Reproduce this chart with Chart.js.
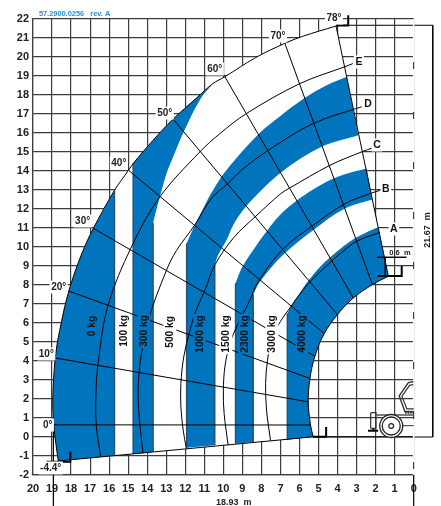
<!DOCTYPE html>
<html>
<head>
<meta charset="utf-8">
<title>Load chart</title>
<script src="https://cdn.jsdelivr.net/npm/chart.js@4.4.1/dist/chart.umd.js"></script>
<style>
  html, body { margin: 0; padding: 0; background: #fff; }
  canvas { display: block; }
</style>
</head>
<body>
<canvas id="chart" width="441" height="506"></canvas>
<script>
// Working envelope as [reach m, height m]
const outerLow = [[18.67,-1.26],[18.8,-0.35],[18.91,0.64],[18.96,2.0],[18.83,4.16],[18.6,5.6],[18.12,7.68],[17.44,9.64],[16.83,10.98],[15.72,12.98]];
const outerGap = [[15.72,12.98],[14.98,14.04],[14.74,14.39]];
const outerMid = [[14.74,14.39],[13.69,15.62],[12.64,16.73],[11.4,17.85],[10.55,18.6]];
const outerTop = [[10.55,18.6],[9.92,18.96],[8.3,19.97],[6.77,20.72],[5.8,21.1],[4.08,21.63]];
const innerArc = [[1.33,8.46],[2.17,8.02],[3.17,7.32],[4.01,6.44],[4.7,5.44],[5.19,4.25],[5.45,3.08],[5.54,1.85],[5.42,0.63],[5.28,0.01]];

// Blue band edges
const strip2Edge = [[13.69,11.26],[13.51,12.0],[13.34,12.63],[12.99,13.86],[12.64,14.74],[12.08,16.06],[11.24,17.73],[10.55,18.6]];
const band1Top = [[11.93,10.19],[11.5,11.16],[11.06,12.03],[10.54,13.0],[9.83,14.05],[8.12,15.97],[7.0,16.9],[5.71,17.85],[4.6,18.5],[3.52,18.96]];
const band1Low = [[2.91,15.88],[4.84,15.27],[6.94,13.95],[8.25,12.74],[8.96,11.95],[9.48,11.16],[9.83,10.37],[10.27,9.58],[10.45,9.05]];
const band2Top = [[9.36,8.09],[9.04,8.88],[8.43,9.84],[7.73,10.81],[7.03,11.68],[6.12,12.46],[5.2,13.08],[4.22,13.6],[3.3,13.92],[2.47,14.13]];
const band2Low = [[2.17,12.5],[3.61,12.02],[5.28,10.88],[6.9,9.55],[8.08,8.17],[8.43,7.5]];
const band3Top = [[6.64,6.49],[6.41,6.95],[6.0,7.55],[5.54,8.22],[4.9,8.98],[4.22,9.6],[3.87,9.9],[3.0,10.51],[2.03,10.98],[1.86,11.02]];

// Band foot points on the bottom line
const stripFeet = [15.72,14.74,13.69,11.93,10.45,9.36,8.43,6.64];
const stripFootHeights = [-0.98,-0.89,-0.79,-0.57,-0.44,-0.35,-0.26,-0.14];

// Load curves
const arcA = [[7.52,-0.2],[7.73,1.42],[7.78,2.82],[7.68,4.04],[7.47,5.09],[7.12,5.88],[6.59,6.67],[5.54,8.07],[4.31,9.25],[3.87,9.65],[3.0,10.3],[1.77,10.77]];
const arcB = [[9.75,-0.42],[9.96,1.24],[10.0,2.47],[9.92,3.69],[9.71,4.74],[9.45,5.48],[8.96,6.49],[8.6,7.21],[8.22,8.09],[6.86,9.9],[5.28,11.14],[3.61,12.28],[2.21,12.84],[1.77,12.98]];
const arcC = [[11.94,-0.63],[12.11,0.36],[12.23,1.59],[12.23,2.82],[12.08,4.22],[11.8,5.44],[11.5,6.49],[10.97,7.72],[10.45,9.05],[9.45,10.5],[8.34,11.58],[6.97,12.82],[6.52,13.1],[4.4,14.3],[2.65,15.04],[2.2,15.2]];
const arcD = [[14.22,-0.86],[14.39,0.71],[14.48,2.29],[14.43,3.34],[14.3,4.39],[13.95,6.14],[12.99,8.77],[12.46,9.82],[11.5,11.16],[10.62,12.57],[9.75,13.35],[9.04,14.05],[7.64,15.09],[5.28,16.5],[2.73,17.38]];
const arcE = [[16.44,-1.04],[16.67,0.54],[16.7,2.11],[16.58,3.87],[16.06,6.93],[14.83,10.0],[13.34,12.63],[11.24,15.0],[10.18,15.97],[8.78,17.03],[5.98,18.6],[3.61,19.49],[3.2,19.65]];

// Boom angle lines
const ray0 = [[18.91,0.64],[5.42,0.63]];
const ray10 = [[18.83,4.16],[5.54,1.85]];
const ray20 = [[18.12,7.68],[5.45,3.08]];
const ray30 = [[16.83,10.98],[5.19,4.25]];
const ray40 = [[14.98,14.04],[4.7,5.44]];
const ray50 = [[12.64,16.73],[4.01,6.44]];
const ray60 = [[9.92,18.96],[3.17,7.32]];
const ray70 = [[6.77,20.72],[2.17,8.02]];

// Dimension marks
const heightDim = [[4.08,21.67],[-1.0,21.67],[-1.0,0.0],[5.28,0.0]];
const reachDim = [[18.93,0.7],[18.93,-3.65]];
const zeroDim = [[0,-2],[0,-3.65]];
const zeroAxis = [[0,22],[0,-2]];
const tickTop = [[4.08,21.66],[3.44,21.66],[3.44,22.2]];
const tickFront = [[5.28,0.01],[4.6,0.01],[4.6,0.53]];
const tickBack = [[19.3,-1.3],[18.04,-1.3],[18.04,-0.77]];
const tickNose = [[1.91,8.47],[0.63,8.47],[0.63,9.0]];
const noseDim = [[1.93,9.46],[0.37,9.46]];
const noseDrop = [[1.5,9.46],[1.5,8.47]];

// Machine
const cabOuter = [[0.02,2.91],[0.28,2.86],[0.76,2.16],[0.46,1.33],[0,1.33]];
const cabInner = [[0.02,2.76],[0.22,2.72],[0.62,2.14],[0.36,1.48],[0,1.48]];
const grille = [[0.45,1.3],[0,1.3]];
const chassis = [[1.95,1.16],[0,1.16]];
const axle = [[0.62,0.6],[0,0.6]];
const outrigger = [[2.26,1.28],[1.98,1.28],[1.98,0.46],[2.26,0.46],[2.26,1.28]];
const outriggerStem = [[2.12,0.46],[2.12,0.33]];
const outriggerFoot = [[2.4,0.33],[1.87,0.33]];
const wheelHub = [[1.18,0.58]];

// Axis ticks
const xTicks = [0,1,2,3,4,5,6,7,8,9,10,11,12,13,14,15,16,17,18,19,20];
const yTicks = [-2,-1,0,1,2,3,4,5,6,7,8,9,10,11,12,13,14,15,16,17,18,19,20,21,22];

// Text labels [text, reach, height]
const degreeLabels = [['0°',19.23,0.63],['10°',19.3,4.37],['20°',18.65,7.89],['30°',17.39,11.37],['40°',15.49,14.42],['50°',13.08,17.05],['60°',10.45,19.37],['70°',7.13,21.11],['78°',4.19,22.05],['-4.4°',19.07,-1.63]];
const curveLabels = [['A',1.04,10.95],['B',1.46,13.05],['C',1.93,15.37],['D',2.4,17.53],['E',2.88,19.74]];
const loadsOnBlue = [['0 kg',16.91,5.84],['300 kg',14.18,5.58],['1000 kg',11.24,5.42],['2300 kg',8.87,5.42],['4000 kg',5.87,5.42]];
const loadsOnWhite = [['100 kg',15.23,5.58],['500 kg',12.81,5.53],['1500 kg',9.87,5.42],['3000 kg',7.45,5.42]];

const BLUE = '#0074bc';
const SMOOTH = 0.35;
const toXY = pts => pts.map(p => ({ x: p[0], y: p[1] }));
const foot = x => [x, stripFootHeights[stripFeet.indexOf(x)]];

// doubling the end points of each piece keeps the corners sharp under the spline
function joined(...pieces) {
    return pieces.flatMap(p => [p[0], ...p, p[p.length - 1]]);
}
function shape(pts, color) {
    return { data: toXY(pts), showLine: true, pointRadius: 0, borderWidth: 0, borderColor: color, backgroundColor: color, fill: 'shape', tension: SMOOTH, clip: false };
}
function stroke(pts, width, color, smooth) {
    return { data: toXY(pts), showLine: true, pointRadius: 0, borderWidth: width, borderColor: color || '#000', fill: false, tension: smooth ? SMOOTH : 0, clip: false };
}
function dot(pts, radius, width, fillColor, style, rot) {
    return { data: toXY(pts), showLine: false, pointStyle: style || 'circle', pointRotation: rot || 0, pointRadius: radius, pointBorderWidth: width, pointBorderColor: '#222', pointBackgroundColor: fillColor, clip: false };
}

const outerAll = [...outerLow, ...outerGap.slice(1), ...outerMid.slice(1), ...outerTop.slice(1)];
const envelope = joined(outerAll, innerArc);
const strip0 = joined(outerLow, [foot(15.72)]);
const strip2 = joined([foot(14.74)], outerMid, strip2Edge.slice().reverse(), [foot(13.69)]);
const band1 = joined([foot(11.93)], band1Top, band1Low, [foot(10.45)]);
const band2 = joined([foot(9.36)], band2Top, band2Low, [foot(8.43)]);
const band3 = joined([foot(6.64)], band3Top, innerArc);

// listed bottom to top, reversed at the end because Chart.js paints index 0 last
const layers = [
    shape(envelope, '#ffffff'),
    shape(strip0, BLUE), shape(strip2, BLUE), shape(band1, BLUE), shape(band2, BLUE), shape(band3, BLUE),
    stroke([foot(15.72),[15.72,12.98]], 1.4, '#28506e'),
    stroke([foot(14.74),[14.74,14.39]], 1.4, '#28506e'),
    stroke([foot(13.69),[13.69,11.26]], 1.4, '#28506e'),
    stroke([foot(10.45),[10.45,9.05]], 1.4, '#28506e'),
    stroke([foot(11.93),[11.93,10.19]], 1.4, '#28506e'),
    stroke([foot(9.36),[9.36,8.09]], 1.4, '#28506e'),
    stroke([foot(8.43),[8.43,7.5]], 1.4, '#28506e'),
    stroke([foot(6.64),[6.64,6.49]], 1.4, '#28506e'),
    stroke(joined(outerAll, innerArc, [outerAll[0]]), 1, '#000', true),
    stroke(ray0, 1), stroke(ray10, 1), stroke(ray20, 1), stroke(ray30, 1),
    stroke(ray40, 1), stroke(ray50, 1), stroke(ray60, 1), stroke(ray70, 1),
    stroke(arcA, 1, '#000', true), stroke(arcB, 1, '#000', true), stroke(arcC, 1, '#000', true),
    stroke(arcD, 1, '#000', true), stroke(arcE, 1, '#000', true),
    stroke(heightDim, 1), stroke(reachDim, 1.2), stroke(zeroDim, 1.2),
    stroke(tickTop, 2), stroke(tickFront, 2), stroke(tickBack, 2), stroke(tickNose, 2),
    stroke(noseDim, 1.4), stroke(noseDrop, 1.4),
    Object.assign(stroke(zeroAxis, 1.6, '#ffffff'), { borderDash: [43, 7] }),
    stroke(cabOuter, 1.4, '#333'), stroke(cabInner, 1.2, '#333'),
    Object.assign(stroke(grille, 3, '#333'), { borderDash: [1.5, 1] }),
    stroke(chassis, 1.6, '#555'), stroke(axle, 1.2, '#555'),
    stroke(outrigger, 1.2, '#333'), stroke(outriggerStem, 2), stroke(outriggerFoot, 2),
    dot(wheelHub, 11.5, 1.3, '#ffffff'), dot(wheelHub, 9, 1.3, '#ffffff'), dot(wheelHub, 2.4, 1.2, '#ffffff'),
    dot([[-1.0,21.4]], 3, 0, '#000', 'triangle'),
    dot([[-1.0,0.25]], 3, 0, '#000', 'triangle', 180)
];

const labelPlugin = {
    id: 'labelPlugin',
    afterDatasetsDraw(chart) {
        const { ctx, scales: { x, y } } = chart;
        const put = (text, rx, ry, font, color, bg, rotated, align) => {
            const px = x.getPixelForValue(rx), py = y.getPixelForValue(ry);
            ctx.save();
            ctx.translate(px, py);
            if (rotated) ctx.rotate(-Math.PI / 2);
            ctx.font = font;
            ctx.textAlign = align || 'center';
            ctx.textBaseline = 'middle';
            if (bg) {
                const w = ctx.measureText(text).width + 3;
                ctx.fillStyle = bg;
                ctx.fillRect(-w / 2, -6.5, w, 13);
            }
            ctx.fillStyle = color;
            ctx.fillText(text, 0, 0);
            ctx.restore();
        };
        const sans = '"Liberation Sans", Arial, sans-serif';
        degreeLabels.forEach(l => put(l[0], l[1], l[2], 'bold 10px ' + sans, '#222', '#fff'));
        curveLabels.forEach(l => put(l[0], l[1], l[2], 'bold 10.5px ' + sans, '#111', '#fff'));
        loadsOnBlue.forEach(l => put(l[0], l[1], l[2], 'bold 10.2px ' + sans, '#111', BLUE, true));
        loadsOnWhite.forEach(l => put(l[0], l[1], l[2], 'bold 10.2px ' + sans, '#111', '#fff', true));
        put('21.67  m', -0.75, 10.89, 'bold 9px ' + sans, '#222', null, true);
        put('18.93  m', 9.45, -3.47, 'bold 9px ' + sans, '#222', '#fff');
        put('0.6  m', 0.72, 9.68, 'bold 7.5px ' + sans, '#222', null);
        put('57.2900.0256   rev. A', 19.69, 22.26, 'bold 7.4px ' + sans, '#2a8fd6', null, false, 'left');
    }
};

new Chart(document.getElementById('chart'), {
    type: 'scatter',
    data: { datasets: layers.slice().reverse() },
    plugins: [labelPlugin],
    options: {
        responsive: false,
        animation: false,
        events: [],
        layout: { padding: { top: 19, right: 27.3, left: 0, bottom: 0 } },
        plugins: { legend: { display: false }, tooltip: { enabled: false } },
        scales: {
            x: {
                type: 'linear',
                reverse: true,
                min: 0,
                max: 20,
                afterFit: s => { s.height = 31; },
                afterBuildTicks: s => { s.ticks = xTicks.map(v => ({ value: v })); },
                grid: { color: '#3c3c3c', lineWidth: 1.2, drawTicks: false },
                border: { color: '#3c3c3c', width: 1.2 },
                ticks: { color: '#222', padding: 7, maxRotation: 0, autoSkip: false, font: { family: '"Liberation Sans"', size: 11, weight: 'bold' } }
            },
            y: {
                type: 'linear',
                min: -2,
                max: 22,
                afterFit: s => { s.width = 33; },
                afterBuildTicks: s => { s.ticks = yTicks.map(v => ({ value: v })); },
                grid: { color: '#3c3c3c', lineWidth: 1.2, drawTicks: false },
                border: { color: '#3c3c3c', width: 1.2 },
                ticks: { color: '#222', padding: 4, autoSkip: false, font: { family: '"Liberation Sans"', size: 11, weight: 'bold' } }
            }
        }
    }
});
</script>
</body>
</html>
